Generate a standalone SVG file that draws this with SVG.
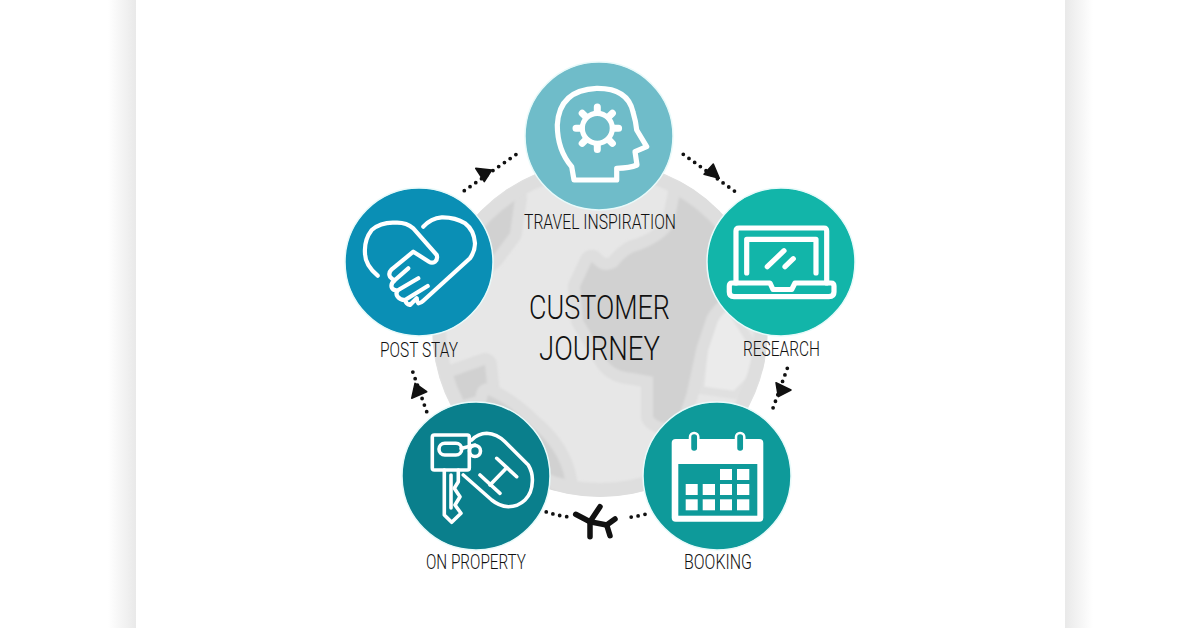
<svg xmlns="http://www.w3.org/2000/svg" width="1200" height="628" viewBox="0 0 1200 628">
<style>
.lbl{font-family:"Roboto","Liberation Sans",sans-serif;font-weight:300;font-size:20.5px;fill:#111}
.ttl{font-family:"Roboto","Liberation Sans",sans-serif;font-weight:300;font-size:34px;fill:#111}
.ic{fill:none;stroke:#fff;stroke-width:5.200;stroke-linecap:round;stroke-linejoin:round}
.thin{fill:none;stroke:#fff;stroke-width:3.600;stroke-linecap:round;stroke-linejoin:round}
.disc{stroke:#e8fafa;stroke-width:1.500}
.dots{fill:none;stroke:#111;stroke-width:3.800;stroke-linecap:round;stroke-dasharray:0 7}
.head{fill:#111;stroke:#111;stroke-width:1.500;stroke-linejoin:round}
.land{fill:#d1d1d1;stroke:#dedede;stroke-width:24;stroke-linejoin:round;paint-order:stroke}
.cell{fill:#fff}
</style>
<defs>
<linearGradient id="shL" x1="0" x2="1" y1="0" y2="0"><stop offset="0" stop-color="#fff"/><stop offset="1" stop-color="#e9e9e9"/></linearGradient>
<linearGradient id="shR" x1="0" x2="1" y1="0" y2="0"><stop offset="0" stop-color="#e9e9e9"/><stop offset="1" stop-color="#fff"/></linearGradient>
<clipPath id="gc"><circle cx="600" cy="329" r="168"/></clipPath>
<filter id="soft" x="-5%" y="-5%" width="110%" height="110%"><feGaussianBlur stdDeviation="1.200"/></filter>
</defs>
<rect width="1200" height="628" fill="#fff"/>
<rect x="108" y="0" width="28" height="628" fill="url(#shL)"/>
<rect x="1065" y="0" width="28" height="628" fill="url(#shR)"/>

<g id="globe" clip-path="url(#gc)">
<circle cx="600" cy="329" r="168" fill="#e7e7e7"/>
<g filter="url(#soft)">
<path d="M725,300L706,330L700,390L735,395L765,365Z" fill="#ebebeb" stroke="#e0e0e0" stroke-width="8" stroke-linejoin="round"/>
<path class="land" d="M591.700,261.700Q603,275 616.700,266.700Q628,252 640,250Q665,240 673,226.700L680,193L730,216.700L730,293Q712,305 706.700,316.700L696.700,346.700L686.700,393L676.700,423Q660,425 653,416.700L653,376.700L633,373Q615,372 606.700,360L583,320L580,286.700Z"/>
<path class="land" d="M483,223L515,198L510,233L492,257L470,275Z"/>
<path class="land" d="M451.700,376.700L485,365L488,393L463,400Z"/>
<path class="land" d="M488,395Q510,405 530,425Q560,450 565,480Q560,495 535,500L470,470Z"/>
<circle cx="600" cy="329" r="161" fill="none" stroke="#dedede" stroke-width="14"/>
<path d="M560,482Q610,495 660,480L680,520L540,520Z" fill="#dedede"/>
</g>
</g>

<g id="connectors">
<path class="dots" d="M683.300,154.300L736.700,192.700"/>
<polygon class="head" points="713.300,164 704,174.300 719.300,178.300"/>
<path class="dots" d="M787.300,368.300L771.700,411.700"/>
<polygon class="head" points="776,382.700 791,390 778.300,396.700"/>
<path class="dots" d="M645,514.300Q635,517 625,517.700"/>
<path class="dots" d="M566.700,516.700Q555,515 545.700,511.700"/>
<path class="dots" d="M426.700,411.700L411,366.700"/>
<polygon class="head" points="415,383.300 426.700,391.700 411.700,398.300"/>
<path class="dots" d="M464.300,190.700L517.700,153.300"/>
<polygon class="head" points="475.700,168.300 491.700,170 484.300,181.700"/>
<g id="plane" fill="none" stroke="#111" stroke-width="5.500" stroke-linecap="round" stroke-linejoin="round">
<path d="M575.700,514.300L590,521.700L606.700,525L615,519"/>
<path d="M600,506.700L590,521.700V536.700"/>
<path d="M606.700,525L610,535.700"/>
</g>
</g>

<g id="node-travel-inspiration">
<circle class="disc" cx="599" cy="136" r="74" fill="#6fbcc9"/>
<path class="ic" d="M574,180L571.700,166.700Q557.300,150 557.300,125Q559,90 596.700,88.300Q628,88 633,112Q636,122 636.700,130L646.700,146.700L635,151.700L637,165Q630,168 616.700,168.300L616.700,180Z"/>
<circle class="ic" cx="597.300" cy="128.300" r="15"/>
<path d="M597.300,107V112M597.300,144.600V149.600M576,128.300H581M613.600,128.300H618.600M582.200,113.200L585.800,116.800M608.800,139.800L612.400,143.400M582.200,143.400L585.800,139.800M608.800,116.800L612.400,113.200" fill="none" stroke="#fff" stroke-width="7" stroke-linecap="round"/>
<text class="lbl" x="600" y="229" text-anchor="middle" textLength="152" lengthAdjust="spacingAndGlyphs">TRAVEL INSPIRATION</text>
</g>

<g id="node-research">
<circle class="disc" cx="781" cy="262" r="74" fill="#12b5a9"/>
<path class="ic" d="M736,283V231Q736,228 739,228H824Q826.700,228 826.700,231V283"/>
<path class="ic" d="M746.700,273V239.300H816V273"/>
<path class="ic" d="M732,283H770L773,289.500H791.700L795,283H831Q834,283 834,286V292Q834,296.700 829,296.700H734Q729.300,296.700 729.300,292V286Q729.300,283 732,283Z"/>
<path class="ic" d="M767.300,266.700L784,250.700M785,266.700L793.300,258.700"/>
<text class="lbl" x="781.500" y="356" text-anchor="middle" textLength="77" lengthAdjust="spacingAndGlyphs">RESEARCH</text>
</g>

<g id="node-booking">
<circle class="disc" cx="717" cy="476" r="74" fill="#0e9a9a"/>
<rect x="671.700" y="439" width="91.600" height="82.700" rx="4" fill="#fff"/>
<rect x="678.300" y="464" width="79" height="51.700" fill="#0e9a9a"/>
<rect x="690" y="433" width="8.300" height="19" rx="4" fill="#0e9a9a" stroke="#fff" stroke-width="2.500"/>
<rect x="736" y="433" width="8.300" height="19" rx="4" fill="#0e9a9a" stroke="#fff" stroke-width="2.500"/>
<rect class="cell" x="720" y="469" width="12" height="11"/><rect class="cell" x="737" y="469" width="12.300" height="11"/>
<rect class="cell" x="685.700" y="484" width="12" height="11"/><rect class="cell" x="702.700" y="484" width="12.300" height="11"/><rect class="cell" x="720" y="484" width="12" height="11"/><rect class="cell" x="737" y="484" width="12.300" height="11"/>
<rect class="cell" x="685.700" y="499.300" width="12" height="11"/><rect class="cell" x="702.700" y="499.300" width="12.300" height="11"/><rect class="cell" x="720" y="499.300" width="12" height="11"/><rect class="cell" x="737" y="499.300" width="12.300" height="11"/>
<text class="lbl" x="718" y="569" text-anchor="middle" textLength="68" lengthAdjust="spacingAndGlyphs">BOOKING</text>
</g>

<g id="node-on-property">
<circle class="disc" cx="476" cy="476" r="74" fill="#0a7f8c"/>
<rect class="thin" x="432.300" y="435" width="37" height="35" rx="2"/>
<rect class="thin" x="439" y="443.300" width="22.700" height="11.700" rx="5.800"/>
<path class="thin" d="M461,448.500L475,445"/>
<circle class="thin" cx="475" cy="451" r="5.500"/>
<path class="thin" d="M444.300,470V515L451.700,522.300L461,513.300L455,505L460,496.700L454.300,488.300L458.300,481.700V470"/>
<path class="thin" d="M451,475V508"/>
<path class="thin" d="M471.700,440Q478,433.500 486.700,433.300Q497,434 505,441.700L528.300,465Q533,473 532.300,481.700Q532,493 525,500Q518,506.700 508.300,506.700Q499,506 491.700,500L463.300,475"/>
<path class="thin" d="M480,475L500,493.300M496.700,458.300L516.700,476.700M506.700,467.700L490,485"/>
<text class="lbl" x="476" y="569" text-anchor="middle" textLength="100" lengthAdjust="spacingAndGlyphs">ON PROPERTY</text>
</g>

<g id="node-post-stay">
<circle class="disc" cx="419" cy="262" r="74" fill="#0a8fb5"/>
<path class="thin" stroke-width="4.200" style="stroke-width:4.200" d="M377.700,275.700Q365,265 365,253.300Q364,240 371.700,230Q381,222 395,222.700Q406,222 413.300,228.300L436.700,255Q438,259 435,261.700Q432,263.500 429,261.700L413.300,251.700L391.700,269.300Q388,273 390,276.700Q392,279.500 395,280L408.300,268.300M395,280Q390,284 392,288Q394,291 398.300,290L418.300,278.300M398.300,290Q395,293 397.700,296.700Q400,300 405,300L427.700,286M405,300Q406,304 410,305L416.700,298.300M416.700,298.300Q417,302 418.300,303.300Q421,303 423.300,300.700L470,258.300Q475,251 475,243.300Q474,230 465,223.300Q455,217 441.700,217.300Q431,218 423.300,226.700"/>
<text class="lbl" x="419" y="357" text-anchor="middle" textLength="78" lengthAdjust="spacingAndGlyphs">POST STAY</text>
</g>

<g id="center-title">
<text class="ttl" x="599.500" y="319" text-anchor="middle" textLength="141" lengthAdjust="spacingAndGlyphs">CUSTOMER</text>
<text class="ttl" x="599.500" y="360" text-anchor="middle" textLength="121" lengthAdjust="spacingAndGlyphs">JOURNEY</text>
</g>
</svg>
